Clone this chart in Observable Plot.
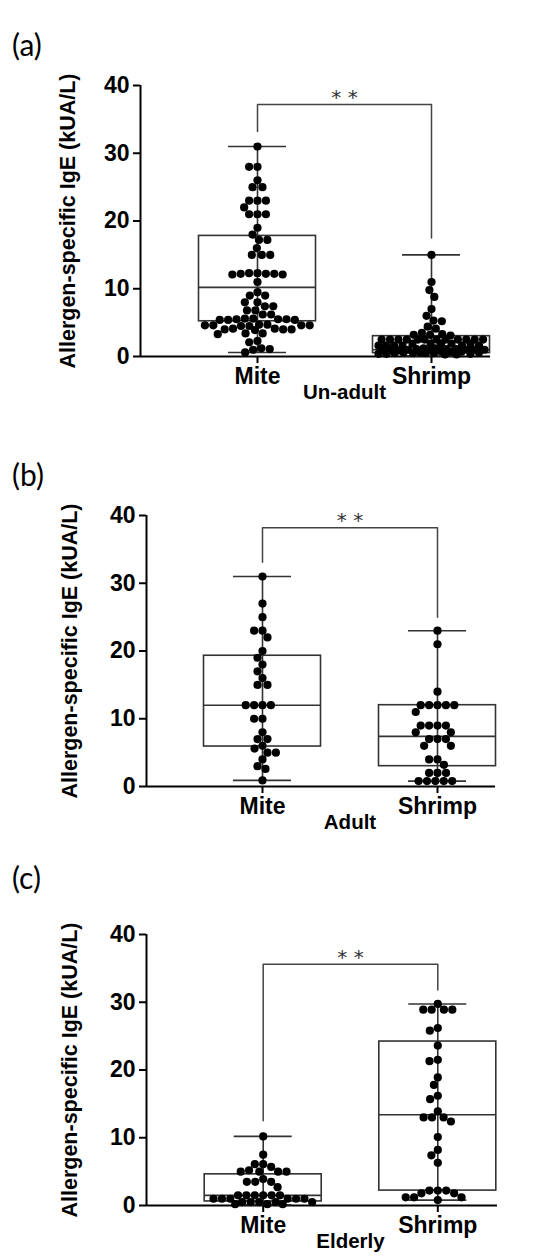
<!DOCTYPE html>
<html><head><meta charset="utf-8">
<script src="https://cdn.jsdelivr.net/npm/d3@7"></script>
<script src="https://cdn.jsdelivr.net/npm/@observablehq/plot@0.6"></script>
<style>
body{margin:0;background:#fff;}
#root{position:relative;width:550px;height:1257px;overflow:hidden;background:#fff;}
.panel{position:absolute;left:0;}
.plabel{position:absolute;left:12px;font-family:Lato,"Open Sans",sans-serif;font-size:30px;line-height:1;color:#000;}
</style></head><body><div id="root"></div>
<script>
// ---------- data ----------
const categories = ["Mite", "Shrimp"];
const groups = ["Un-adult", "Adult", "Elderly"];
const panelLabels = ["(a)", "(b)", "(c)"];
const yTicks = [0, 10, 20, 30, 40];
const yLabel = "Allergen-specific IgE (kUA/L)";
const signif = "**";

// individual values (kUA/L)
const miteUnadult = [31.0, 28.0, 28.0, 26.0, 25.0, 25.0, 23.0, 23.0, 23.0, 22.0, 21.0, 21.0, 21.0, 19.0, 18.0, 17.2, 17.2, 16.0, 15.0, 15.0, 15.0,
  12.3, 12.3, 12.2, 12.2, 12.2, 12.1, 12.1, 11.0, 9.5, 9.0, 9.0, 8.0, 8.0, 7.4, 7.4, 6.8, 6.8, 6.2, 6.2,
  5.6, 5.6, 5.5, 5.5, 5.5, 5.4, 5.4, 5.4, 4.7, 4.7, 4.6, 4.6, 4.6, 4.6, 4.5, 4.5, 4.1, 4.1, 4.0, 4.0, 4.0, 3.9,
  3.4, 3.4, 3.3, 2.3, 2.1, 1.2, 1.1, 1.0, 0.6];
const shrimpUnadult = [15.0, 11.0, 9.8, 8.8, 7.0, 6.0, 5.3, 5.2, 4.4, 4.1, 3.5, 3.3, 3.2, 3.2, 3.1,
  2.5, 2.5, 2.5, 2.5, 2.5, 2.5, 2.5, 2.5, 2.5, 2.5, 2.5, 2.5,
  1.9, 1.9, 1.9, 1.9, 1.9, 1.6, 1.6, 1.6, 1.6, 1.6, 1.6,
  1.2, 1.2, 1.1, 1.1, 1.1, 1.0, 1.0, 1.0, 1.0, 0.9, 0.9, 0.9, 0.9, 0.8,
  0.7, 0.7, 0.6, 0.6, 0.6, 0.5, 0.5, 0.5, 0.5, 0.4, 0.4, 0.4, 0.3, 0.3];
const miteAdult = [31.0, 27.0, 25.0, 23.0, 23.0, 22.0, 20.0, 19.0, 18.0, 17.0, 16.0, 15.0, 15.0, 12.0, 12.0, 12.0, 12.0,
  10.0, 10.0, 8.0, 7.0, 7.0, 6.0, 5.6, 5.0, 5.0, 4.0, 3.0, 2.6, 0.9];
const shrimpAdult = [23.0, 21.0, 14.0, 12.0, 12.0, 12.0, 12.0, 12.0, 11.0, 9.0, 9.0, 9.0, 9.0, 8.0, 8.0, 7.0, 7.0, 7.0,
  6.0, 6.0, 4.0, 4.0, 3.2, 2.0, 2.0, 2.0, 0.8, 0.8, 0.8, 0.8, 0.8];
const miteElderly = [10.2, 7.5, 6.1, 6.1, 5.7, 5.2, 5.0, 5.0, 5.0, 5.0, 3.9, 3.5, 3.5, 3.5, 2.7,
  1.5, 1.5, 1.5, 1.5, 1.5, 1.5, 1.0, 1.0, 1.0, 1.0, 1.0, 1.0, 0.5, 0.5, 0.5, 0.5, 0.5, 0.2, 0.2, 0.2];
const shrimpElderly = [29.75, 28.9, 28.9, 28.9, 28.9, 26.2, 25.8, 23.6, 21.5, 21.3, 18.9, 17.8, 16.2, 15.7, 13.9,
  13.0, 13.0, 13.0, 12.4, 10.1, 8.2, 7.4, 6.3, 2.2, 2.2, 2.2, 1.8, 1.8, 1.2, 1.2, 1.2, 0.8];

// box summaries: [min, q1, median, q3, max]
const boxMiteUnadult = [0.6, 5.2, 10.2, 17.8, 31.0];
const boxShrimpUnadult = [0.1, 0.5, 1.0, 3.0, 15.0];
const boxMiteAdult = [0.9, 5.9, 12.0, 19.3, 31.0];
const boxShrimpAdult = [0.8, 3.0, 7.4, 12.0, 23.0];
const boxMiteElderly = [0.1, 0.6, 1.5, 4.6, 10.2];
const boxShrimpElderly = [0.8, 2.2, 13.4, 24.2, 29.75];

// significance brackets: [bar level, left leg end, right leg end]
const bracketUnadult = [37.2, 33.2, 17.5];
const bracketAdult = [38.2, 33.1, 25.0];
const bracketElderly = [35.6, 12.5, 31.8];

// ---------- layout ----------
const W = 550, H = 408, MT = 85, MB = 52;
const pxPerY = (H - MT - MB) / 40;
const panels = [
  {label: panelLabels[0], group: groups[0], values: [miteUnadult, shrimpUnadult], boxes: [boxMiteUnadult, boxShrimpUnadult], bracket: bracketUnadult, top: 0, ml: 140, right: 490, c1: 257, c2: 431, labelY: 45, ylabX: 68},
  {label: panelLabels[1], group: groups[1], values: [miteAdult, shrimpAdult], boxes: [boxMiteAdult, boxShrimpAdult], bracket: bracketAdult, top: 430, ml: 146, right: 495, c1: 262, c2: 437, labelY: 475, ylabX: 70},
  {label: panelLabels[2], group: groups[2], values: [miteElderly, shrimpElderly], boxes: [boxMiteElderly, boxShrimpElderly], bracket: bracketElderly, top: 849, ml: 146, right: 497, c1: 262.7, c2: 437.3, labelY: 878, ylabX: 70}
];

// beeswarm layout (pixel offsets), squeezed to fit within +-L like the original scatter
function swarm(values, diam, L) {
  const pts = values.map(v => ({v, py: v * pxPerY, x: 0})).sort((a, b) => b.py - a.py);
  const placed = [];
  for (const p of pts) {
    const near = placed.filter(q => Math.abs(q.py - p.py) < diam);
    const iv = near.map(q => { const dy = q.py - p.py; const w = Math.sqrt(diam * diam - dy * dy); return [q.x - w, q.x + w]; });
    const cands = [0];
    for (const [a, b] of iv) cands.push(a, b);
    cands.sort((a, b) => Math.abs(a) - Math.abs(b) || a - b);
    let best = null;
    for (const c of cands) {
      if (iv.every(([a, b]) => c <= a + 1e-6 || c >= b - 1e-6)) { best = c; break; }
    }
    if (best === null || Math.abs(best) > L) {
      let bestScore = -1;
      for (let x = -L; x <= L; x += 0.5) {
        let m = Infinity;
        for (const q of near) m = Math.min(m, Math.hypot(q.x - x, q.py - p.py));
        if (m > bestScore + 1e-6 || (Math.abs(m - bestScore) < 1e-6 && Math.abs(x) < Math.abs(best))) { bestScore = m; best = x; }
      }
    }
    p.x = best;
    placed.push(p);
  }
  return placed;
}

const root = document.getElementById("root");
for (const P of panels) {
  const step = P.c2 - P.c1;
  const lo = 1 - (P.c1 - P.ml) / step;
  const hi = 2 + (P.right - P.c2) / step;
  const bw = 58.5 / step, cw = 29 / step;
  const boxData = P.boxes.map((b, i) => ({i: i + 1, min: b[0], q1: b[1], med: b[2], q3: b[3], max: b[4]}));
  const points = [];
  P.values.forEach((vals, i) => {
    for (const p of swarm(vals, 8.4, 53)) points.push({x: i + 1 + p.x / step, y: p.v});
  });
  const [lev, l1, l2] = P.bracket;
  const bracketPts = [{x: 1, y: l1}, {x: 1, y: lev}, {x: 2, y: lev}, {x: 2, y: l2}];

  const svg = Plot.plot({
    width: W, height: H, marginTop: MT, marginBottom: MB, marginLeft: P.ml, marginRight: W - P.right,
    style: {fontFamily: "'Liberation Sans', Arial, sans-serif", fontSize: "23px", fontWeight: "bold", color: "#000", background: "transparent", overflow: "visible"},
    x: {domain: [lo, hi], ticks: [1, 2], tickFormat: d => categories[d - 1], tickSize: 7, tickPadding: 4, label: null},
    y: {domain: [0, 40], ticks: yTicks, tickFormat: d => String(d), tickSize: 7, tickPadding: 4, label: null},
    marks: [
      Plot.ruleX([lo], {y1: 0, y2: 40, stroke: "#000", strokeWidth: 2}),
      Plot.ruleY([0], {stroke: "#000", strokeWidth: 2}),
      Plot.rect(boxData, {x1: d => d.i - bw, x2: d => d.i + bw, y1: "q1", y2: "q3", fill: "none", stroke: "#333", strokeWidth: 1.6}),
      Plot.ruleY(boxData, {x1: d => d.i - bw, x2: d => d.i + bw, y: "med", stroke: "#333", strokeWidth: 1.6}),
      Plot.ruleX(boxData, {x: "i", y1: "min", y2: "max", stroke: "#333", strokeWidth: 1.6}),
      Plot.ruleY(boxData, {x1: d => d.i - cw, x2: d => d.i + cw, y: "min", stroke: "#333", strokeWidth: 1.6}),
      Plot.ruleY(boxData, {x1: d => d.i - cw, x2: d => d.i + cw, y: "max", stroke: "#333", strokeWidth: 1.6}),
      Plot.dot(points, {x: "x", y: "y", r: 4.1, fill: "#000", stroke: "none"}),
      Plot.line(bracketPts, {x: "x", y: "y", stroke: "#444", strokeWidth: 1.5}),
      Plot.text([signif], {x: () => 1.5, y: () => lev, text: d => d.split("").join(" "), dy: -7, fontSize: 20, fontWeight: "normal", fontFamily: "'DejaVu Sans', sans-serif", fill: "#333"}),
      Plot.text([yLabel], {frameAnchor: "left", textAnchor: "middle", rotate: -90, dx: P.ylabX - P.ml, text: d => d, fontSize: 21.5, fontWeight: "bold"}),
      Plot.text([P.group], {x: () => 1.5, frameAnchor: "bottom", dy: 42, text: d => d, fontSize: 20.5, fontWeight: "bold"})
    ]
  });
  d3.select(svg).selectAll("g[aria-label*='axis'] line, g[aria-label*='axis'] path").attr("stroke-width", 2).attr("stroke", "#000");
  const wrap = document.createElement("div");
  wrap.className = "panel";
  wrap.style.top = P.top + "px";
  wrap.appendChild(svg);
  root.appendChild(wrap);
  const lab = document.createElement("div");
  lab.className = "plabel";
  lab.textContent = P.label;
  lab.style.top = (P.labelY - 16) + "px";
  root.appendChild(lab);
}
</script></body></html>
